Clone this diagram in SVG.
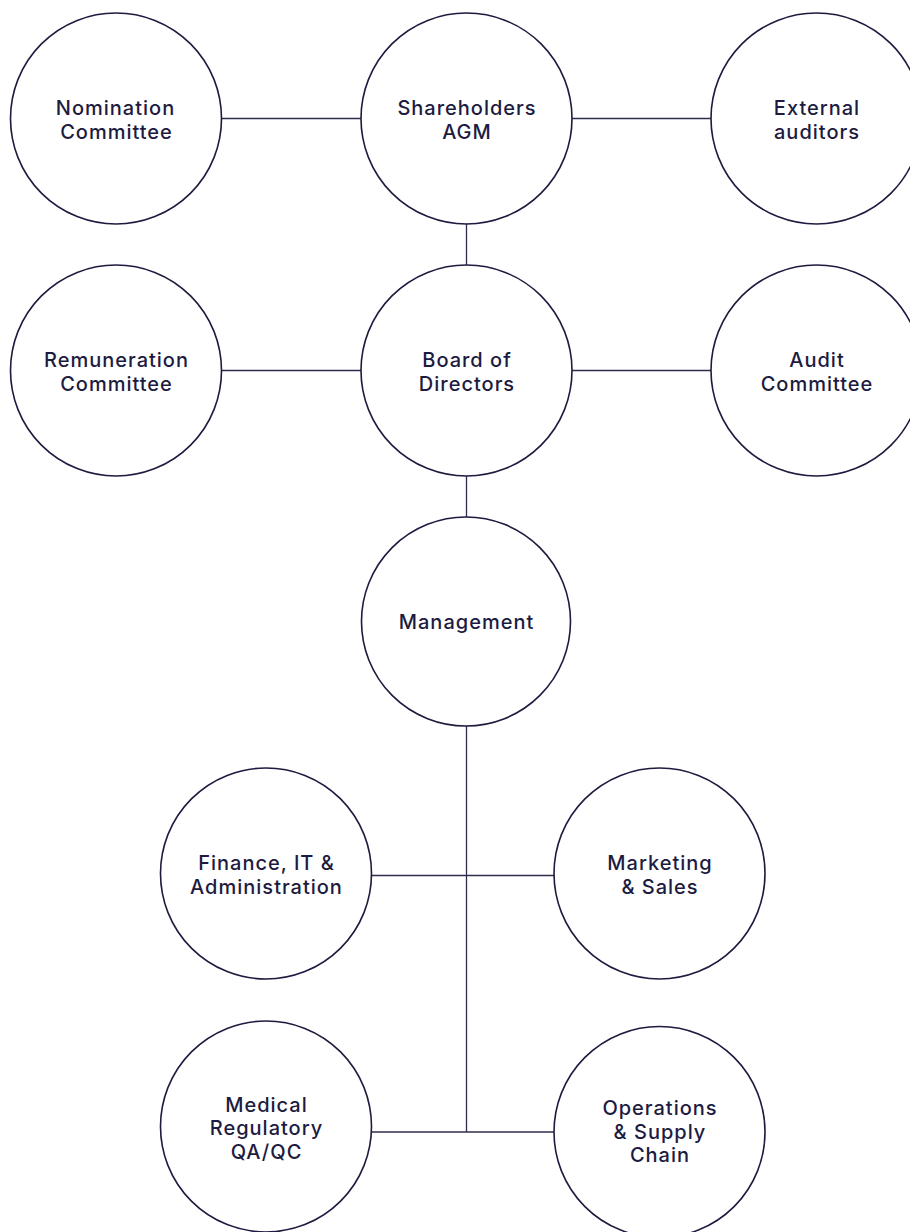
<svg xmlns="http://www.w3.org/2000/svg" width="910" height="1232" viewBox="0 0 910 1232">
<style>
.c{fill:#fff;stroke:#1d1b3f;stroke-width:1.6}
.l{stroke:#2e2c4c;stroke-width:1.3;fill:none}
text{font-family:Inter,"Noto Sans",sans-serif;font-size:20px;font-weight:500;letter-spacing:1px;fill:#1d1b3f;text-anchor:middle}
</style>
<rect width="910" height="1232" fill="#fff"/>
<g id="connectors">
<line class="l" x1="221" y1="118.5" x2="361" y2="118.5"/>
<line class="l" x1="571" y1="118.5" x2="711" y2="118.5"/>
<line class="l" x1="221" y1="370.5" x2="361" y2="370.5"/>
<line class="l" x1="571" y1="370.5" x2="711" y2="370.5"/>
<line class="l" x1="466.5" y1="224" x2="466.5" y2="265"/>
<line class="l" x1="466.5" y1="476" x2="466.5" y2="517"/>
<line class="l" x1="466.5" y1="726" x2="466.5" y2="1132"/>
<line class="l" x1="371" y1="875.5" x2="554" y2="875.5"/>
<line class="l" x1="371" y1="1132" x2="554" y2="1132"/>
</g>
<g id="nomination"><circle class="c" cx="116" cy="118.5" r="105.5"/><text x="115.5" y="115">Nomination</text><text x="116.5" y="138.5">Committee</text></g>
<g id="shareholders"><circle class="c" cx="466.5" cy="118.5" r="105.5"/><text x="467" y="115">Shareholders</text><text x="467" y="138.5">AGM</text></g>
<g id="external"><circle class="c" cx="816.5" cy="118.5" r="105.5"/><text x="817" y="115">External</text><text x="817" y="138.5">auditors</text></g>
<g id="remuneration"><circle class="c" cx="116" cy="370.5" r="105.5"/><text x="116.5" y="367">Remuneration</text><text x="116.5" y="390.5">Committee</text></g>
<g id="board"><circle class="c" cx="466.5" cy="370.5" r="105.5"/><text x="467" y="367">Board of</text><text x="467" y="390.5">Directors</text></g>
<g id="audit"><circle class="c" cx="816.5" cy="370.5" r="105.5"/><text x="817" y="367">Audit</text><text x="817" y="390.5">Committee</text></g>
<g id="management"><circle class="c" cx="466" cy="621.5" r="104.5"/><text x="466.5" y="629.3">Management</text></g>
<g id="finance"><circle class="c" cx="266" cy="873.5" r="105.5"/><text x="266.5" y="870">Finance, IT &amp;</text><text x="266.5" y="893.5">Administration</text></g>
<g id="marketing"><circle class="c" cx="659.5" cy="873.5" r="105.5"/><text x="660" y="870">Marketing</text><text x="660" y="893.5">&amp; Sales</text></g>
<g id="medical"><circle class="c" cx="266" cy="1126.5" r="105.5"/><text x="266.5" y="1111.7">Medical</text><text x="266.5" y="1135.2">Regulatory</text><text x="266.5" y="1158.7">QA/QC</text></g>
<g id="operations"><circle class="c" cx="659.5" cy="1132" r="105.5"/><text x="660" y="1115">Operations</text><text x="660" y="1138.5">&amp; Supply</text><text x="660" y="1162">Chain</text></g>
</svg>
